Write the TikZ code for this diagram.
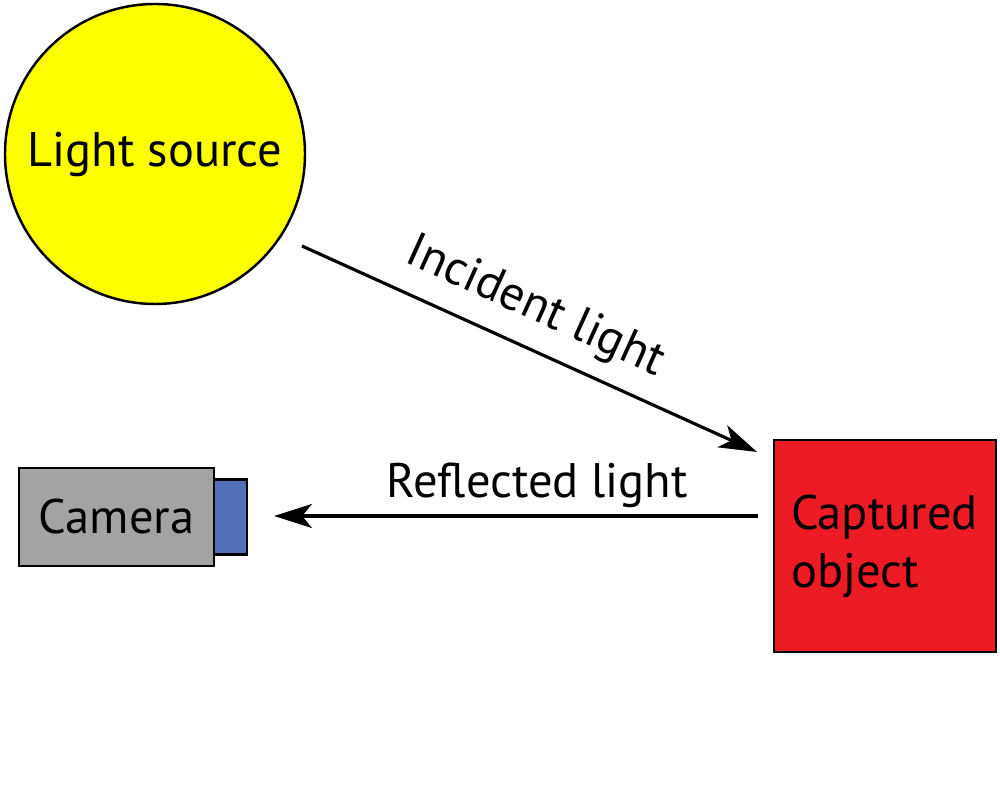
\documentclass[tikz,border=0pt]{standalone}
\usepackage{fontspec}
\setmainfont{PT Sans}
\usepackage{tikz}
\usepackage{xcolor}
\usetikzlibrary{shapes, positioning, arrows.meta}

\definecolor{sunyellow}{HTML}{FFFF00}
\definecolor{bodygray}{HTML}{A3A3A3}
\definecolor{lensblue}{HTML}{5270B8}
\definecolor{objred}{HTML}{ED1C24}

\begin{document}
\begin{tikzpicture}[
        every node/.style={font=\fontsize{13.8}{16.5}\selectfont},
        part/.style={draw, line width=0.7pt, outer sep=0pt},
        ray/.style={line width=0.9pt, -{Stealth[length=0.38cm, width=0.24cm, inset=0.1cm]}},
        lbl/.style={inner sep=0pt}
    ]
        \useasboundingbox (0, 0) rectangle (10, 8);

        \node[part, circle, fill=sunyellow, minimum size=3cm] (source) at (1.55, 6.46) {Light source};
        \node[part, rectangle, fill=bodygray, minimum width=1.95cm, minimum height=0.98cm] (camera) at (1.165, 2.83) {Camera};
        \node[part, rectangle, fill=lensblue, minimum width=0.33cm, minimum height=0.75cm, right=0pt of camera] (lens) {};
        \node[part, rectangle, fill=objred, minimum width=2.22cm, minimum height=2.12cm,
            text width=1.88cm, inner xsep=0.17cm, align=left] (object) at (8.85, 2.54) {Captured\\object};

        \coordinate (inc-start) at (3.02, 5.54);
        \coordinate (inc-end) at (7.57, 3.48);
        \coordinate (ref-start) at (7.58, 2.84);
        \coordinate (ref-end) at (2.74, 2.84);

        \draw[ray] (inc-start) to node[lbl, pos=0.476, sloped, above=0.16cm] (inc-label) {Incident light} (inc-end);
        \draw[ray] (ref-start) to node[lbl, pos=0.456, above=0.07cm] (ref-label) {Reflected light} (ref-end);
    \end{tikzpicture}
\end{document}
